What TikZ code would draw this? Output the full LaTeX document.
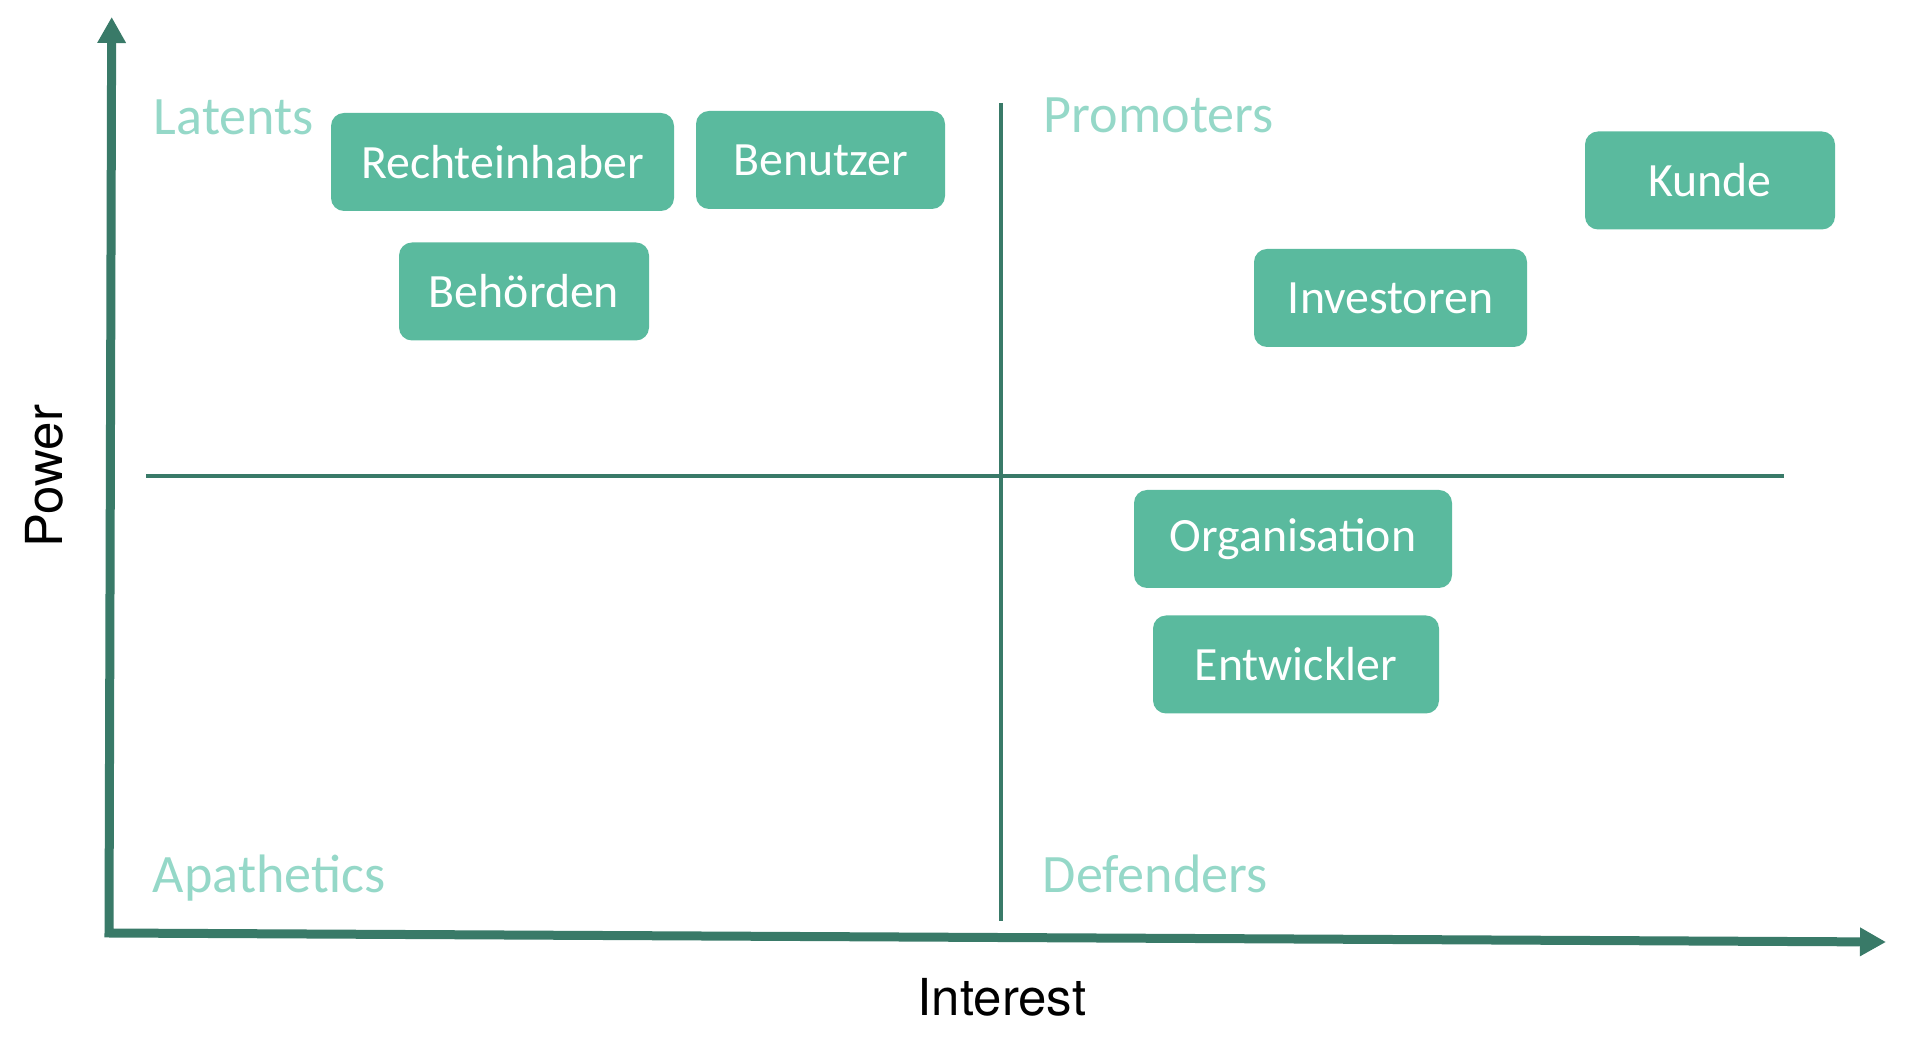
\documentclass[tikz,border=0pt]{standalone}
\usepackage{fontspec}
\setmainfont{Carlito}
\newfontfamily\axisfont{TeX Gyre Heros}
\usepackage{xcolor}
\usepackage{tikz}
\usetikzlibrary{arrows.meta}
\definecolor{axisgreen}{HTML}{397A68}
\definecolor{boxgreen}{HTML}{5ABA9E}
\definecolor{lightgreen}{HTML}{95D8C8}

\tikzset{
    stakeholder/.style={draw=none, fill=boxgreen, text=white, rounded corners=0.26cm,
        minimum height=1.96cm, inner sep=0pt, font=\fontsize{27.2}{32}\selectfont},
    quadrant/.style={text=lightgreen, inner sep=0pt, anchor=base west,
        font=\fontsize{30.8}{36}\selectfont},
    axislabel/.style={inner sep=0pt, font=\axisfont\fontsize{29}{34}\selectfont},
}

\begin{document}
\begin{tikzpicture}[scale=1.0]
    \useasboundingbox (0,0) rectangle (38.16,20.84);

    % Achsen
    \coordinate (ytip) at (2.234,20.50);
    \coordinate (origin) at (2.18,2.18);
    \coordinate (xtip) at (37.72,2.00);
    \draw[axisgreen, line width=0.18cm, line join=miter,
        {Triangle[length=0.52cm, width=0.54cm]}-{Triangle[length=0.52cm, width=0.54cm]}]
        (ytip) -- (origin) -- (xtip);
    \node[axislabel, anchor=base] (interest) at (20.04,0.54) {Interest};
    \node[axislabel, rotate=90] (power) at (0.88,11.32) {Power};

    % Quadranten
    \coordinate (vtop) at (20.02,18.78);
    \coordinate (vbot) at (20.02,2.42);
    \coordinate (hleft) at (2.92,11.32);
    \coordinate (hright) at (35.68,11.32);
    \draw[axisgreen, line width=0.08cm] (vtop) -- (vbot);
    \draw[axisgreen, line width=0.08cm] (hleft) -- (hright);

    \node[quadrant] (latents) at (3.07,18.14) {Latents};
    \node[quadrant] (promoters) at (20.87,18.18) {Promoters};
    \node[quadrant] (apathetics) at (3.05,2.98) {Apathetics};
    \node[quadrant] (defenders) at (20.85,2.98) {Defenders};

    % Stakeholder
    \node[stakeholder, minimum width=6.86cm] (rechte) at (10.05,17.60) {Rechteinhaber};
    \node[stakeholder, minimum width=4.98cm] (benutzer) at (16.41,17.64) {Benutzer};
    \node[stakeholder, minimum width=5.00cm] (behoerden) at (10.48,15.01) {Behörden};
    \node[stakeholder, minimum width=5.00cm] (kunde) at (34.20,17.23) {Kunde};
    \node[stakeholder, minimum width=5.46cm] (investoren) at (27.81,14.88) {Investoren};
    \node[stakeholder, minimum width=6.36cm] (organisation) at (25.86,10.06) {Organisation};
    \node[stakeholder, minimum width=5.72cm] (entwickler) at (25.92,7.55) {Entwickler};

\end{tikzpicture}
\end{document}
